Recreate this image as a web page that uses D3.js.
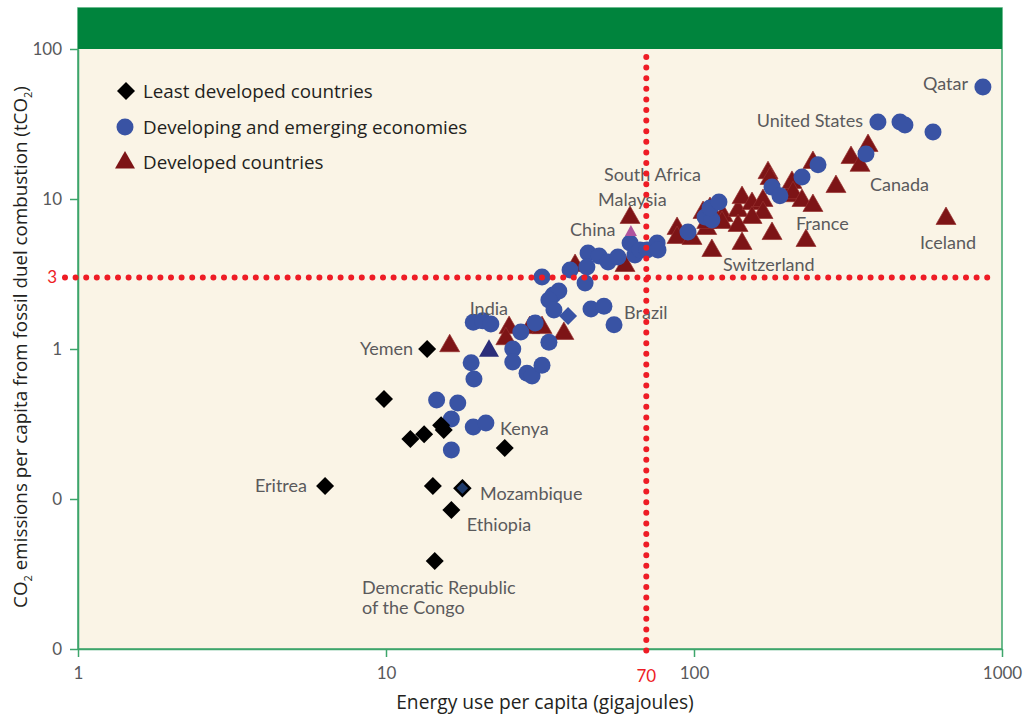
<!DOCTYPE html>
<html><head><meta charset="utf-8">
<script src="https://cdn.jsdelivr.net/npm/d3@7"></script>
<style>body{margin:0;background:#fff;} svg{display:block;font-family:Lato,"Open Sans",sans-serif;}</style>
</head><body><svg id="c" width="1028" height="714"></svg>
<script>
// ---------- data ----------
const xTicks = [1, 10, 100, 1000];
const xTickLabels = ["1", "10", "100", "1000"];
const yTicks = [100, 10, 1, 0.1, 0.01];
const yTickLabels = ["100", "10", "1", "0", "0"];
const energyThreshold = 70;
const emissionThreshold = 3;
const legendLabels = ["Least developed countries", "Developing and emerging economies", "Developed countries"];

// [energy use per capita (GJ), CO2 per capita (t)]
const leastDeveloped = [
  [13.6, 1.0], [9.85, 0.464], [12.0, 0.251], [13.3, 0.27], [15.1, 0.31], [15.4, 0.288],
  [24.3, 0.219], [6.34, 0.122], [14.2, 0.122], [16.3, 0.0845], [14.4, 0.0386]
];
const mozambique = [[17.7, 0.118]];
const developing = [
  [32.1, 3.02], [34.9, 2.29], [36.4, 2.44], [33.8, 2.12], [35.1, 1.82], [44.3, 2.75],
  [46.3, 1.85], [51.0, 1.93], [55.0, 1.45], [19.2, 1.51], [20.6, 1.54], [21.9, 1.47],
  [30.5, 1.49], [27.4, 1.30], [25.8, 1.0], [25.8, 0.82], [33.8, 1.11], [18.9, 0.81],
  [19.3, 0.63], [28.7, 0.69], [29.8, 0.66], [32.1, 0.78], [14.6, 0.457], [17.1, 0.436],
  [16.3, 0.341], [19.2, 0.302], [21.1, 0.321], [16.3, 0.212],
  [39.6, 3.36], [45.3, 4.37], [49.2, 4.17], [52.6, 3.80], [56.6, 4.11], [44.9, 3.52],
  [62.0, 5.09], [64.3, 4.23], [66.8, 4.57], [70.4, 4.57], [75.9, 5.09], [76.4, 4.57],
  [95.6, 6.03], [108.6, 7.59], [114.3, 7.24], [112.7, 8.71], [120.5, 9.55],
  [179.2, 12.0], [190.1, 10.5], [224.2, 14.0], [252.7, 16.9], [361.7, 19.95],
  [395.5, 32.6], [466.5, 32.6], [484, 31.1], [597, 28.0], [867, 55.8]
];
const developingDiamonds = [[39.0, 1.66]];
const developed = [
  [62.0, 7.59], [59.7, 3.63], [41.1, 3.63], [88.1, 6.41], [88.1, 5.58], [98.5, 5.50],
  [107, 8.19], [110, 6.41], [114.3, 4.57], [112.7, 8.71], [124.2, 7.82], [123.3, 7.03],
  [110, 7.03], [139, 8.45], [143.2, 10.3], [154.3, 9.4], [167.5, 9.85], [167.5, 8.19],
  [154.3, 7.59], [139, 6.71], [143.2, 5.09], [179.2, 5.93], [173.9, 15.1], [176.6, 13.8],
  [201.8, 10.6], [208, 13.0], [209.6, 11.1], [243.3, 17.65], [224.2, 9.85], [243.3, 9.12],
  [231, 5.33], [289, 12.2], [323.4, 19.05], [346, 16.9], [367.3, 22.9], [658, 7.47],
  [25.1, 1.40], [24.5, 1.18], [29.3, 1.40], [32.1, 1.40], [37.8, 1.28], [16.1, 1.06]
];
const navyTriangles = [[21.6, 0.98]];
const purpleTriangles = [[62.4, 6.03]];

// [label, energy, CO2, anchor]
const countryLabels = [
  ["Qatar", 775.6, 58.4, "end"],
  ["United States", 353.8, 33.1, "end"],
  ["South Africa", 51.0, 14.45, "start"],
  ["Malaysia", 48.8, 9.85, "start"],
  ["China", 39.6, 6.21, "start"],
  ["Canada", 372.8, 12.4, "start"],
  ["France", 214.3, 6.81, "start"],
  ["Iceland", 541.8, 5.09, "start"],
  ["Switzerland", 124.2, 3.63, "start"],
  ["Brazil", 59.3, 1.74, "start"],
  ["India", 18.7, 1.85, "start"],
  ["Yemen", 12.24, 1.0, "end"],
  ["Kenya", 23.45, 0.293, "start"],
  ["Eritrea", 5.54, 0.122, "end"],
  ["Mozambique", 20.2, 0.108, "start"],
  ["Ethiopia", 18.3, 0.0671, "start"],
  ["Demcratic Republic", 8.36, 0.0255, "start"],
  ["of the Congo", 8.36, 0.0188, "start"]
];

// ---------- drawing ----------
const svg = d3.select("#c");
const pLeft = 78, pRight = 1002, pTop = 8, pBottom = 649;
const x = d3.scaleLog().domain([1, 1000]).range([pLeft, pRight]);
const y = d3.scaleLog().domain([0.01, 100]).range([pBottom, 49]);
const axisGreen = "#3da56b", red = "#ee1c25";
const cBlue = "#3953a4", cRed = "#7d1416";
const titleFont = "'Open Sans',Lato,sans-serif";

svg.append("rect").attr("x", pLeft).attr("y", pTop).attr("width", pRight - pLeft).attr("height", pBottom - pTop)
  .attr("fill", "#faf4e6").attr("stroke", axisGreen).attr("stroke-width", 1.5);
svg.append("rect").attr("x", pLeft).attr("y", pTop).attr("width", pRight - pLeft).attr("height", y(100) - pTop)
  .attr("fill", "#00843d");

// axes
const gx = svg.append("g").attr("transform", `translate(0,${pBottom})`)
  .call(d3.axisBottom(x).tickValues(xTicks).tickFormat((d, i) => xTickLabels[i]).tickSize(8).tickPadding(10).tickSizeOuter(0));
const gy = svg.append("g").attr("transform", `translate(${pLeft},0)`)
  .call(d3.axisLeft(y).tickValues(yTicks).tickFormat((d, i) => yTickLabels[i]).tickSize(8).tickPadding(8).tickSizeOuter(0));
[gx, gy].forEach(g => {
  g.select(".domain").attr("stroke", axisGreen).attr("stroke-width", 1.5);
  g.selectAll(".tick line").attr("stroke", axisGreen).attr("stroke-width", 1.5);
  g.selectAll(".tick text").attr("fill", "#58595b").attr("font-size", 17).attr("font-family", "Lato,'Open Sans',sans-serif");
});

// marker shapes
const diamondPath = "M0,-9L9,0L0,9L-9,0Z";
const trianglePath = "M0,-11L10,6.5L-10,6.5Z";
const smallTrianglePath = "M0,-7L6,4L-6,4Z";

const plot = svg.append("g");
plot.selectAll(".dev").data(developed).join("path").attr("class", "dev")
  .attr("d", trianglePath).attr("transform", d => `translate(${x(d[0])},${y(d[1])})`)
  .attr("fill", cRed).attr("stroke", "#96302f").attr("stroke-width", 0.7);
plot.selectAll(".navy").data(navyTriangles).join("path").attr("class", "navy")
  .attr("d", trianglePath).attr("transform", d => `translate(${x(d[0])},${y(d[1])})`).attr("fill", "#2b2e7a");
plot.selectAll(".dvg").data(developing).join("circle").attr("class", "dvg")
  .attr("cx", d => x(d[0])).attr("cy", d => y(d[1])).attr("r", 8.5).attr("fill", cBlue);
plot.selectAll(".dvgd").data(developingDiamonds).join("path").attr("class", "dvgd")
  .attr("d", diamondPath).attr("transform", d => `translate(${x(d[0])},${y(d[1])})`).attr("fill", cBlue);
plot.selectAll(".purp").data(purpleTriangles).join("path").attr("class", "purp")
  .attr("d", smallTrianglePath).attr("transform", d => `translate(${x(d[0])},${y(d[1])})`).attr("fill", "#b0549e");
plot.selectAll(".ldc").data(leastDeveloped).join("path").attr("class", "ldc")
  .attr("d", diamondPath).attr("transform", d => `translate(${x(d[0])},${y(d[1])})`).attr("fill", "#000");
plot.selectAll(".moz").data(mozambique).join("path").attr("class", "moz")
  .attr("d", "M0,-7.5L7.5,0L0,7.5L-7.5,0Z").attr("transform", d => `translate(${x(d[0])},${y(d[1])})`)
  .attr("fill", "#1d3a6b").attr("stroke", "#000").attr("stroke-width", 2.5);

// country labels
svg.append("g").selectAll("text").data(countryLabels).join("text")
  .attr("x", d => x(d[1])).attr("y", d => y(d[2])).attr("dy", "0.35em").attr("text-anchor", d => d[3])
  .attr("fill", "#5a5a5c").attr("font-size", 18).text(d => d[0]);

// threshold dotted lines (drawn over markers)
svg.append("line").attr("x1", 65).attr("x2", 995).attr("y1", y(emissionThreshold)).attr("y2", y(emissionThreshold))
  .attr("stroke", red).attr("stroke-width", 6).attr("stroke-linecap", "round").attr("stroke-dasharray", "0,10.6");
svg.append("line").attr("x1", x(energyThreshold)).attr("x2", x(energyThreshold)).attr("y1", 57).attr("y2", 657)
  .attr("stroke", red).attr("stroke-width", 6).attr("stroke-linecap", "round").attr("stroke-dasharray", "0,10.6");
svg.append("text").attr("x", 57).attr("y", y(emissionThreshold)).attr("dy", "0.35em").attr("text-anchor", "end")
  .attr("fill", red).attr("font-size", 17).text(String(emissionThreshold));
svg.append("text").attr("x", x(energyThreshold)).attr("y", 676).attr("dy", "0.35em").attr("text-anchor", "middle")
  .attr("fill", red).attr("font-size", 17).text(String(energyThreshold));

// legend
const leg = svg.append("g");
const legY = [91, 127, 162];
leg.append("path").attr("d", diamondPath).attr("transform", `translate(126,${legY[0]})`).attr("fill", "#000");
leg.append("circle").attr("cx", 125).attr("cy", legY[1]).attr("r", 8.5).attr("fill", cBlue);
leg.append("path").attr("d", trianglePath).attr("transform", `translate(125,${legY[2]})`).attr("fill", cRed);
leg.selectAll("text").data(legendLabels).join("text").attr("x", 143).attr("y", (d, i) => legY[i]).attr("dy", "0.35em")
  .attr("fill", "#231f20").attr("font-size", 18.8).attr("font-family", titleFont).text(d => d);

// axis titles
svg.append("text").attr("x", 545).attr("y", 702).attr("dy", "0.35em").attr("text-anchor", "middle")
  .attr("fill", "#231f20").attr("font-size", 19.2).attr("font-family", titleFont).text("Energy use per capita (gigajoules)");
const yt = svg.append("text").attr("transform", "translate(20,347) rotate(-90)").attr("dy", "0.35em")
  .attr("text-anchor", "middle").attr("fill", "#231f20").attr("font-size", 18.8).attr("font-family", titleFont);
yt.append("tspan").text("CO");
yt.append("tspan").attr("font-size", 11).attr("dy", "5").text("2");
yt.append("tspan").attr("dy", "-5").text(" emissions per capita from fossil duel combustion (tCO");
yt.append("tspan").attr("font-size", 11).attr("dy", "5").text("2");
yt.append("tspan").attr("dy", "-5").text(")");
</script></body></html>
